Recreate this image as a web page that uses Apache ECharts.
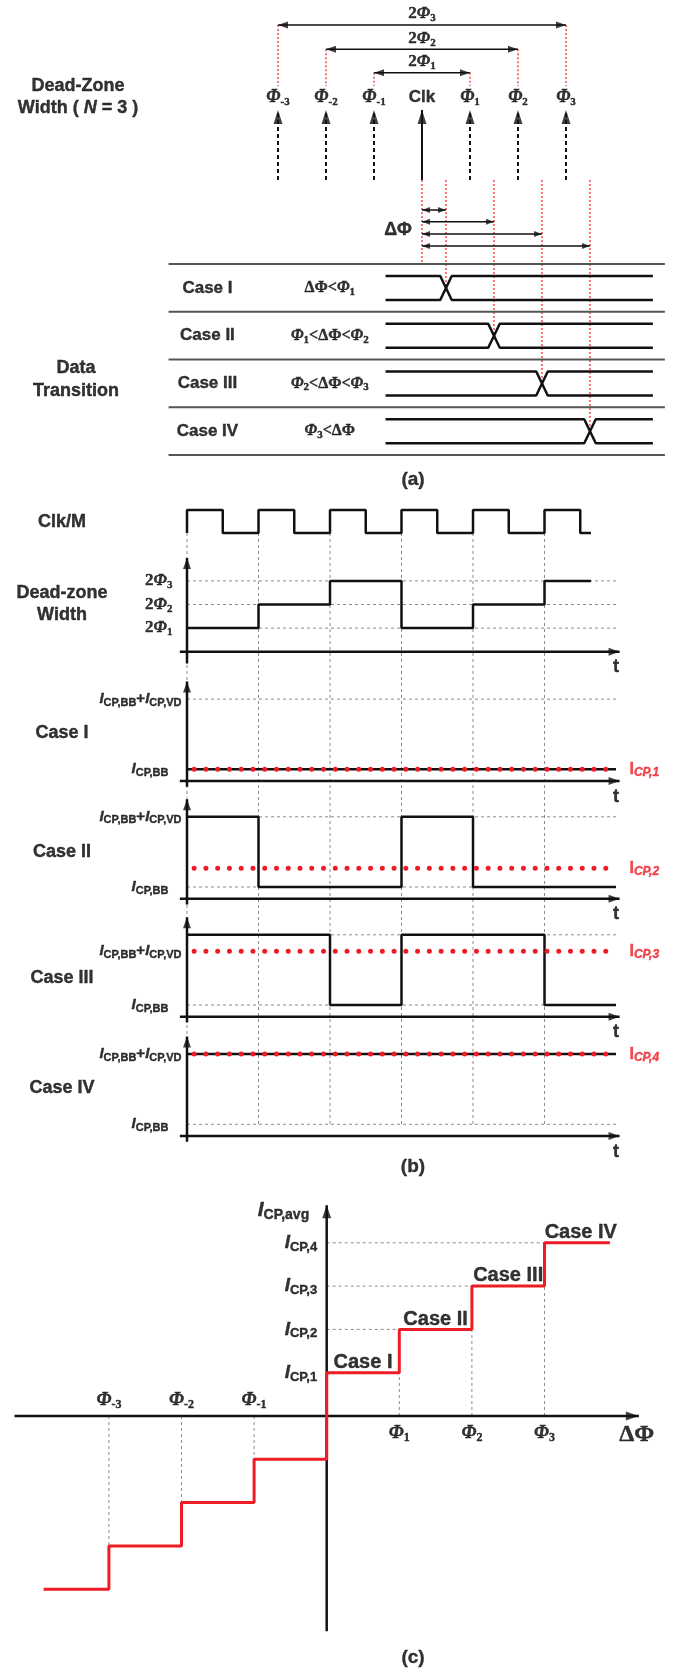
<!DOCTYPE html>
<html><head><meta charset="utf-8">
<script src="https://cdn.jsdelivr.net/npm/echarts@6/dist/echarts.min.js"></script>
<style>html,body{margin:0;padding:0;background:#fff}#c{width:676px;height:1671px}</style>
</head><body><div id="c"></div>
<script>
// ================= DATA =================
// (a) dead-zone phases (in units of the phase step, Clk = 0)
const phaseValues = [-3, -2, -1, 0, 1, 2, 3];
const phaseSubs   = ['-3', '-2', '-1', 'Clk', '1', '2', '3'];
const spanOrders  = [1, 2, 3];                 // 2Φ1, 2Φ2, 2Φ3
const caseNames   = ['Case I', 'Case II', 'Case III', 'Case IV'];
const caseTransition = [0.5, 1.5, 2.5, 3.5];   // ΔΦ of the data transition
// (b) waveforms, time in clock/M periods
const clkTimes  = [0, 0, 0.5, 1, 1.5, 2, 2.5, 3, 3.5, 4, 4.5, 5, 5.5, 5.65];
const clkLevels = [0, 1, 0, 1, 0, 1, 0, 1, 0, 1, 0, 1, 0, 0];
const dzTimes   = [0, 1, 2, 3, 4, 5, 5.65];
const dzLevels  = [2, 4, 6, 2, 4, 6, 6];       // 2Φk  (Φk = k)
const dzTicks   = [2, 4, 6];
const edgeTimes = [0, 1, 2, 3, 4, 5];
const cpTimes   = [[0, 6], [0, 1, 3, 4, 6], [0, 2, 3, 5, 6], [0, 6]];
const cpLevels  = [[1, 1], [7, 1, 7, 1, 1], [7, 1, 7, 1, 1], [7, 7]];
const cpAvg     = [1, 2.6, 5.6, 7];            // I_CP,1 .. I_CP,4
const levelBB = 1, levelBBVD = 7;
// (c) average charge-pump current vs ΔΦ
const avgStepX  = [-3.9, -3, -2, -1, 0, 1, 2, 3, 3.9];
const avgStepY  = [-4, -3, -2, -1, 1, 2, 3, 4, 4];
const avgLevels = [1, 2, 3, 4];
const negPhases = [-3, -2, -1];
const posPhases = [1, 2, 3];

// ================= STYLE / HELPERS =================
const SANS = '"Liberation Sans", Arial, sans-serif';
const SERIF = '"Liberation Serif", "Times New Roman", serif';
const BLACK = '#000000', GRAY = '#8c8c8c', RED = '#ee1c24';

const grids = [], xAxes = [], yAxes = [], series = [];
function addGrid(g, x, y) {
  grids.push(Object.assign({ show: false }, g));
  const i = grids.length - 1;
  xAxes.push(Object.assign({ type: 'value', gridIndex: i, show: false }, x));
  yAxes.push(Object.assign({ type: 'value', gridIndex: i, show: false }, y));
  return i;
}
function poly(g, pts, ls, extra) {
  series.push(Object.assign({
    type: 'line', xAxisIndex: g, yAxisIndex: g, data: pts, symbol: 'none', showSymbol: false,
    silent: true, animation: false, clip: false, z: 2,
    lineStyle: Object.assign({ color: '#111', width: 2 }, ls)
  }, extra || {}));
}
function head(g, pt, dir, w, h, color) {
  const rot = { up: 0, down: 180, left: 90, right: -90 }[dir];
  const off = { up: [0, h / 2], down: [0, -h / 2], left: [h / 2, 0], right: [-h / 2, 0] }[dir];
  series.push({
    type: 'scatter', xAxisIndex: g, yAxisIndex: g, data: [pt], symbol: 'triangle', symbolSize: [w, h],
    symbolRotate: rot, symbolOffset: off, itemStyle: { color: color || '#111' }, silent: true,
    animation: false, clip: false, z: 4
  });
}
// shaft from -> to with arrow head(s)
function arrow(g, from, to, ls, heads, w, h) {
  poly(g, [from, to], ls, { z: 3 });
  const dx = to[0] - from[0], dy = to[1] - from[1];
  const horiz = Math.abs(dx) > 0;
  const inv = yAxes[g].inverse;
  const dirTo = horiz ? (dx > 0 ? 'right' : 'left') : ((dy > 0) !== !!inv ? 'up' : 'down');
  const opp = { right: 'left', left: 'right', up: 'down', down: 'up' };
  if (heads[1]) head(g, to, dirTo, w, h);
  if (heads[0]) head(g, from, opp[dirTo], w, h);
}
function label(g, pt, fmt, opt) {
  const col = (opt && opt.color) || BLACK;
  series.push({
    type: 'scatter', xAxisIndex: g, yAxisIndex: g, data: [pt], symbolSize: 1, silent: true,
    animation: false, clip: false, z: 5, itemStyle: { color: 'rgba(0,0,0,0)' },
    label: Object.assign({ show: true, position: 'inside', formatter: fmt, color: col,
      textBorderColor: col, textBorderWidth: 0.4,
      fontFamily: SANS, fontWeight: 'bold', fontSize: 17 }, opt)
  });
}
const zip = (a, b) => a.map((v, i) => [v, b[i]]);
function richPhi(size, sub) {
  const b = { textBorderColor: BLACK, textBorderWidth: 0.4, color: BLACK };
  return {
    n: Object.assign({ fontFamily: SERIF, fontWeight: 'bold', fontSize: size, lineHeight: size + 3 }, b),
    p: Object.assign({ fontFamily: SERIF, fontStyle: 'italic', fontWeight: 'bold', fontSize: size, lineHeight: size + 3 }, b),
    s: Object.assign({ fontFamily: SERIF, fontSize: sub, lineHeight: sub - 2, verticalAlign: 'bottom' }, b)
  };
}
function richI(size, sub, color, subItalic, mainItalic) {
  const b = { textBorderColor: color, textBorderWidth: 0.4, color: color };
  return {
    i: Object.assign({ fontFamily: SANS, fontStyle: mainItalic === false ? 'normal' : 'italic', fontWeight: 'bold', fontSize: size, lineHeight: size + 3 }, b),
    n: Object.assign({ fontFamily: SANS, fontWeight: 'bold', fontSize: size, lineHeight: size + 3 }, b),
    s: Object.assign({ fontFamily: SANS, fontStyle: subItalic ? 'italic' : 'normal', fontWeight: 'bold', fontSize: sub, lineHeight: sub - 2, verticalAlign: 'bottom' }, b)
  };
}
const dotRed = { color: RED, width: 1.2, type: [2, 2] };
const gridDot = { color: GRAY, width: 1, type: [3, 3] };

// ================= PAGE LABELS (pixel grid) =================
const P = addGrid({ left: 0, top: 0, width: 676, height: 1671 }, { min: 0, max: 676 }, { min: 0, max: 1671, inverse: true });
const BIG = { fontSize: 18 };
label(P, [78, 86], 'Dead-Zone', BIG);
label(P, [78, 108], 'Width ( {i|N} = 3 )', Object.assign({ rich: { i: { fontFamily: SANS, fontWeight: 'bold', fontStyle: 'italic', fontSize: 18, textBorderColor: BLACK, textBorderWidth: 0.4 } } }, BIG));
label(P, [76, 368], 'Data', BIG);
label(P, [76, 391], 'Transition', BIG);
label(P, [413, 480], '(a)', { fontSize: 19 });
label(P, [62, 521.7], 'Clk/M', BIG);
label(P, [62, 593], 'Dead-zone', BIG);
label(P, [62, 615], 'Width', BIG);
const caseLabelY = [732.7, 851.7, 977.7, 1088.3];
caseNames.forEach((n, i) => label(P, [62, caseLabelY[i]], n, BIG));
label(P, [413, 1166.7], '(b)', { fontSize: 19 });
label(P, [413, 1658], '(c)', { fontSize: 19 });

// ================= (a) =================
const A = addGrid({ left: 134, top: 0, width: 537.6, height: 480 }, { min: -6, max: 5.2 }, { min: 0, max: 480, inverse: true });
const spanY = { 1: 72.7, 2: 49.3, 3: 25 };
spanOrders.forEach(k => {
  const y = spanY[k];
  poly(A, [[-k, y], [-k, 86]], dotRed, { z: 1 });
  poly(A, [[k, y], [k, 86]], dotRed, { z: 1 });
  arrow(A, [-k, y], [k, y], { width: 1.6 }, [1, 1], 7, 10);
  label(A, [0, y - 11], '{n|2}{p|Φ}{s|' + k + '}', { rich: richPhi(17, 11) });
});
phaseValues.forEach((p, i) => {
  if (p === 0) label(A, [p, 97.3], 'Clk', { fontSize: 17 });
  else label(A, [p, 97.3], '{p|Φ}{s|' + phaseSubs[i] + '}', { rich: richPhi(18, 11) });
  arrow(A, [p, 180], [p, 110], { width: 2, type: p === 0 ? 'solid' : [4, 3] }, [0, 1], 9, 14);
});
const sepTop = 264, rowH = 47.75;
poly(A, [[0, 180], [0, sepTop]], dotRed, { z: 1 });
const deltaY = [210, 221.7, 234, 246];
caseTransition.forEach((c, i) => {
  const sep = sepTop + i * rowH;
  poly(A, [[c, 180], [c, sep + 24]], dotRed, { z: 1 });
  arrow(A, [0, deltaY[i]], [c, deltaY[i]], { width: 1.6 }, [1, 1], 6, 8);
});
label(A, [-0.5, 230], 'ΔΦ', { fontSize: 18 });
for (let j = 0; j <= caseNames.length; j++) {
  const y = sepTop + j * rowH;
  poly(A, [[-5.28, y], [5.06, y]], { color: '#555', width: 2 });
}
const condFmt = [
  '{n|ΔΦ<}{p|Φ}{s|1}',
  '{p|Φ}{s|1}{n|<ΔΦ<}{p|Φ}{s|2}',
  '{p|Φ}{s|2}{n|<ΔΦ<}{p|Φ}{s|3}',
  '{p|Φ}{s|3}{n|<ΔΦ}'
];
caseTransition.forEach((c, i) => {
  const sep = sepTop + i * rowH, T = sep + 12, B = sep + 36, w = 0.12, x0 = -0.76, x1 = 4.81;
  poly(A, [[x0, T], [c - w, T], [c + w, B], [x1, B]], { width: 2.5 });
  poly(A, [[x0, B], [c - w, B], [c + w, T], [x1, T]], { width: 2.5 });
  label(A, [-4.47, sep + 24], caseNames[i], { fontSize: 17 });
  label(A, [-1.92, sep + 24], condFmt[i], { rich: richPhi(16, 11) });
});

// ================= (b) =================
const TX = { min: -0.5, max: 6.5 }, TL = 151.25, TW = 500.5;
const CLK = addGrid({ left: TL, width: TW, top: 510, height: 23 }, TX, { min: 0, max: 1 });
const VG = addGrid({ left: TL, width: TW, top: 533, height: 591 }, TX, { min: 0, max: 1 });
const DZ = addGrid({ left: TL, width: TW, top: 545.5, height: 118 }, TX, { min: -1, max: 9 });
const caseAxisY = [781, 898.7, 1016.7, 1136];
const CG = caseAxisY.map(a => addGrid({ left: TL, width: TW, top: a - 105.3, height: 117 }, TX, { min: -1, max: 9 }));

edgeTimes.forEach(t => poly(VG, [[t, 0], [t, 1]], gridDot, { z: 1 }));
poly(CLK, zip(clkTimes, clkLevels), { width: 2.5 }, { step: 'end' });

dzTicks.forEach(v => {
  poly(DZ, [[0, v], [6, v]], gridDot, { z: 1 });
  label(DZ, [0, v], '{n|2}{p|Φ}{s|' + (v / 2) + '}', { position: 'left', distance: 14, rich: richPhi(17, 11) });
});
poly(DZ, zip(dzTimes, dzLevels), { width: 2.5 }, { step: 'end' });
arrow(DZ, [0, -1], [0, 7.94], { width: 2.5 }, [0, 1], 8, 11);
arrow(DZ, [-0.1, 0], [6.05, 0], { width: 2.5 }, [0, 1], 8, 11);
label(DZ, [6.0, -1.33], 't', { fontSize: 18 });

const topFmt = '{i|I}{s|CP,BB}{n|+}{i|I}{s|CP,VD}';
const bbFmt = '{i|I}{s|CP,BB}';
CG.forEach((g, i) => {
  poly(g, [[0, levelBBVD], [6, levelBBVD]], gridDot, { z: 1 });
  poly(g, [[0, levelBB], [6, levelBB]], gridDot, { z: 1 });
  poly(g, zip(cpTimes[i], cpLevels[i]), { width: 2.5 }, { step: 'end' });
  poly(g, [[0.1, cpAvg[i]], [5.9, cpAvg[i]]], { color: RED, width: 5, type: [0.01, 11.75], cap: 'round' }, { z: 4 });
  const upper = i === 2 ? cpAvg[i] : levelBBVD;
  label(g, [0, upper], topFmt, { position: 'left', distance: 5, rich: richI(15, 11, BLACK) });
  label(g, [0, levelBB], bbFmt, { position: 'left', distance: 18, rich: richI(15, 11, BLACK) });
  label(g, [6, cpAvg[i]], '{i|I}{s|CP,' + (i + 1) + '}', { position: 'right', distance: 13, color: RED, rich: richI(16, 12, RED, true, false) });
  arrow(g, [0, -0.5], [0, 8.5], { width: 2.5 }, [0, 1], 8, 11);
  arrow(g, [-0.1, 0], [6.05, 0], { width: 2.5 }, [0, 1], 8, 11);
  label(g, [6.0, -1.34], 't', { fontSize: 18 });
});

// ================= (c) =================
const C = addGrid({ left: 0, width: 653.4, top: 1177.85, height: 476.3 }, { min: -4.5, max: 4.5 }, { min: -5.5, max: 5.5 });
const dashC = { color: GRAY, width: 1, type: [3, 3] };
avgLevels.forEach((v, i) => {
  if (i > 0) poly(C, [[0, v], [posPhases[i - 1], v]], dashC, { z: 1 });
  label(C, [0, v], '{i|I}{s|CP,' + v + '}', { position: 'left', distance: 9, rich: richI(19, 13, BLACK) });
});
posPhases.forEach((p, i) => {
  poly(C, [[p, 0], [p, avgLevels[i]]], dashC, { z: 1 });
  label(C, [p, -0.4], '{p|Φ}{s|' + p + '}', { rich: richPhi(19, 12) });
});
negPhases.forEach(p => {
  poly(C, [[p, 0], [p, p]], dashC, { z: 1 });
  label(C, [p, 0.37], '{p|Φ}{s|' + p + '}', { rich: richPhi(19, 12) });
});
arrow(C, [-4.3, 0], [4.3, 0], { width: 2.5 }, [0, 1], 9, 13);
arrow(C, [0, -4.97], [0, 4.87], { width: 2.5 }, [0, 1], 9, 13);
poly(C, zip(avgStepX, avgStepY), { color: RED, width: 3 }, { step: 'end', z: 4 });
avgLevels.forEach((v, i) => label(C, [v - 0.5, v + 0.24], caseNames[i], { fontSize: 20 }));
label(C, [0, 4.76], '{i|I}{s|CP,avg}', { position: 'left', distance: 17, rich: richI(21, 14, BLACK) });
label(C, [4.27, -0.44], 'ΔΦ', { fontFamily: SERIF, fontSize: 24 });

const chart = echarts.init(document.getElementById('c'), null, { renderer: 'canvas' });
chart.setOption({ animation: false, grid: grids, xAxis: xAxes, yAxis: yAxes, series: series });
</script></body></html>
